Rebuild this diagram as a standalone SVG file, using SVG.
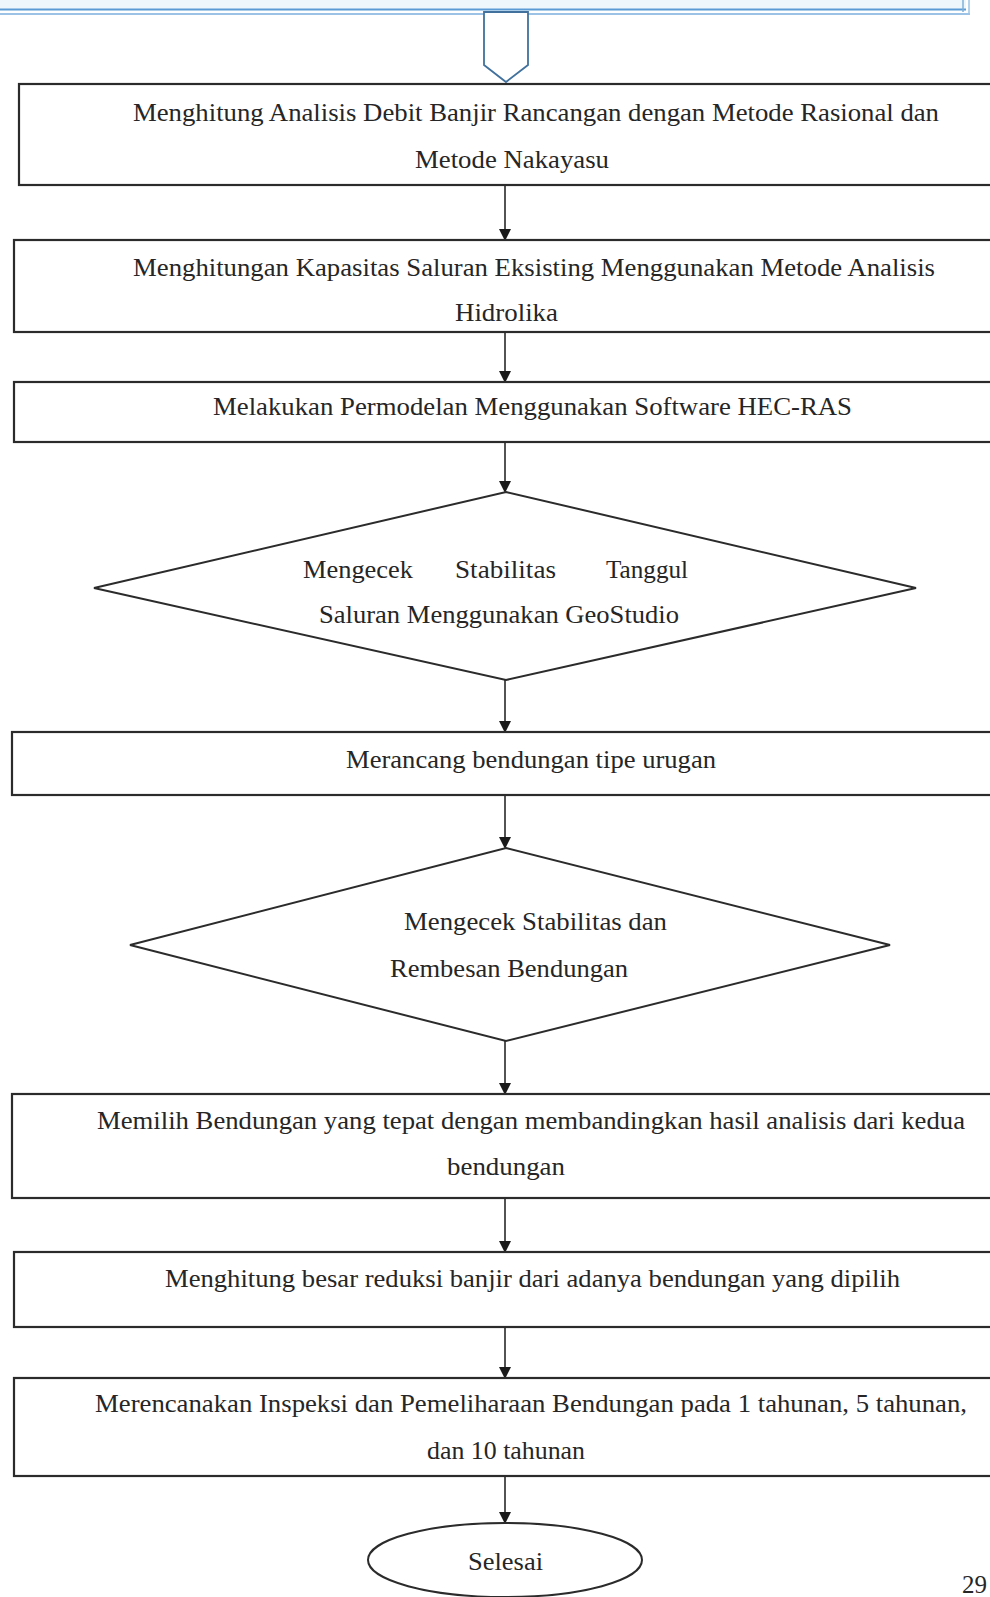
<svg xmlns="http://www.w3.org/2000/svg" width="990" height="1597" viewBox="0 0 990 1597">
<style>
.box{fill:#ffffff;stroke:#2b2b2b;stroke-width:2.2}
.shape{fill:#ffffff;stroke:#2b2b2b;stroke-width:2}
.t{font-family:"Liberation Serif","Times New Roman",serif;font-size:25px;fill:#262626}
.c{stroke:#1a1a1a;stroke-width:1.5;fill:none}
</style>
<defs>
<marker id="ah" markerUnits="userSpaceOnUse" markerWidth="12" markerHeight="14" refX="10" refY="6" orient="auto">
<path d="M0,0 L12,6 L0,12 Z" fill="#1a1a1a"/>
</marker>
</defs>
<rect x="0" y="0" width="990" height="1597" fill="#ffffff"/>
<g id="top-border">
<rect x="0" y="0" width="966" height="9" fill="#eef7fc"/>
<line x1="0" y1="9.5" x2="966" y2="9.5" stroke="#5b9bd5" stroke-width="2"/>
<line x1="0" y1="14" x2="970" y2="14" stroke="#9cc3e5" stroke-width="2"/>
<line x1="963" y1="0" x2="963" y2="12" stroke="#7fb0d8" stroke-width="1.5"/>
<line x1="969" y1="0" x2="969" y2="14" stroke="#9cc3e5" stroke-width="1.5"/>
</g>
<g id="offpage">
<polygon points="484,12 528,12 528,65 506,82 484,65" fill="#ffffff" stroke="#41719c" stroke-width="1.8"/>
</g>
<g id="connectors">
<line class="c" x1="505" y1="185" x2="505" y2="239" marker-end="url(#ah)"/>
<line class="c" x1="505" y1="332" x2="505" y2="381" marker-end="url(#ah)"/>
<line class="c" x1="505" y1="442" x2="505" y2="491" marker-end="url(#ah)"/>
<line class="c" x1="505" y1="680" x2="505" y2="731" marker-end="url(#ah)"/>
<line class="c" x1="505" y1="795" x2="505" y2="847" marker-end="url(#ah)"/>
<line class="c" x1="505" y1="1041" x2="505" y2="1093" marker-end="url(#ah)"/>
<line class="c" x1="505" y1="1198" x2="505" y2="1251" marker-end="url(#ah)"/>
<line class="c" x1="505" y1="1327" x2="505" y2="1377" marker-end="url(#ah)"/>
<line class="c" x1="505" y1="1476" x2="505" y2="1522" marker-end="url(#ah)"/>
</g>
<g id="n1">
<rect class="box" x="19" y="84" width="980" height="101"/>
<text class="t" x="133" y="121" textLength="806" lengthAdjust="spacingAndGlyphs">Menghitung Analisis Debit Banjir Rancangan dengan Metode Rasional dan</text>
<text class="t" x="415" y="168" textLength="194" lengthAdjust="spacingAndGlyphs">Metode Nakayasu</text>
</g>
<g id="n2">
<rect class="box" x="14" y="240" width="985" height="92"/>
<text class="t" x="133" y="276" textLength="802" lengthAdjust="spacingAndGlyphs">Menghitungan Kapasitas Saluran Eksisting Menggunakan Metode Analisis</text>
<text class="t" x="455" y="321" textLength="103" lengthAdjust="spacingAndGlyphs">Hidrolika</text>
</g>
<g id="n3">
<rect class="box" x="14" y="382" width="985" height="60"/>
<text class="t" x="213" y="415" textLength="639" lengthAdjust="spacingAndGlyphs">Melakukan Permodelan Menggunakan Software HEC-RAS</text>
</g>
<g id="n4">
<polygon class="shape" points="506,492 916,588 506,680 94,588"/>
<text class="t" x="303" y="578" textLength="110" lengthAdjust="spacingAndGlyphs">Mengecek</text>
<text class="t" x="455" y="578" textLength="101" lengthAdjust="spacingAndGlyphs">Stabilitas</text>
<text class="t" x="606" y="578" textLength="82" lengthAdjust="spacingAndGlyphs">Tanggul</text>
<text class="t" x="319" y="623" textLength="360" lengthAdjust="spacingAndGlyphs">Saluran Menggunakan GeoStudio</text>
</g>
<g id="n5">
<rect class="box" x="12" y="732" width="987" height="63"/>
<text class="t" x="346" y="768" textLength="370" lengthAdjust="spacingAndGlyphs">Merancang bendungan tipe urugan</text>
</g>
<g id="n6">
<polygon class="shape" points="506,848 890,945 506,1041 130,945"/>
<text class="t" x="404" y="930" textLength="263" lengthAdjust="spacingAndGlyphs">Mengecek Stabilitas dan</text>
<text class="t" x="390" y="977" textLength="238" lengthAdjust="spacingAndGlyphs">Rembesan Bendungan</text>
</g>
<g id="n7">
<rect class="box" x="12" y="1094" width="987" height="104"/>
<text class="t" x="97" y="1129" textLength="868" lengthAdjust="spacingAndGlyphs">Memilih Bendungan yang tepat dengan membandingkan hasil analisis dari kedua</text>
<text class="t" x="447" y="1175" textLength="118" lengthAdjust="spacingAndGlyphs">bendungan</text>
</g>
<g id="n8">
<rect class="box" x="14" y="1252" width="985" height="75"/>
<text class="t" x="165" y="1287" textLength="735" lengthAdjust="spacingAndGlyphs">Menghitung besar reduksi banjir dari adanya bendungan yang dipilih</text>
</g>
<g id="n9">
<rect class="box" x="14" y="1378" width="985" height="98"/>
<text class="t" x="95" y="1412" textLength="872" lengthAdjust="spacingAndGlyphs">Merencanakan Inspeksi dan Pemeliharaan Bendungan pada 1 tahunan, 5 tahunan,</text>
<text class="t" x="427" y="1459" textLength="158" lengthAdjust="spacingAndGlyphs">dan 10 tahunan</text>
</g>
<g id="n10">
<ellipse class="shape" cx="505" cy="1560" rx="137" ry="37"/>
<text class="t" x="468" y="1570" textLength="75" lengthAdjust="spacingAndGlyphs">Selesai</text>
</g>
<text class="t" x="962" y="1593">29</text>
</svg>
